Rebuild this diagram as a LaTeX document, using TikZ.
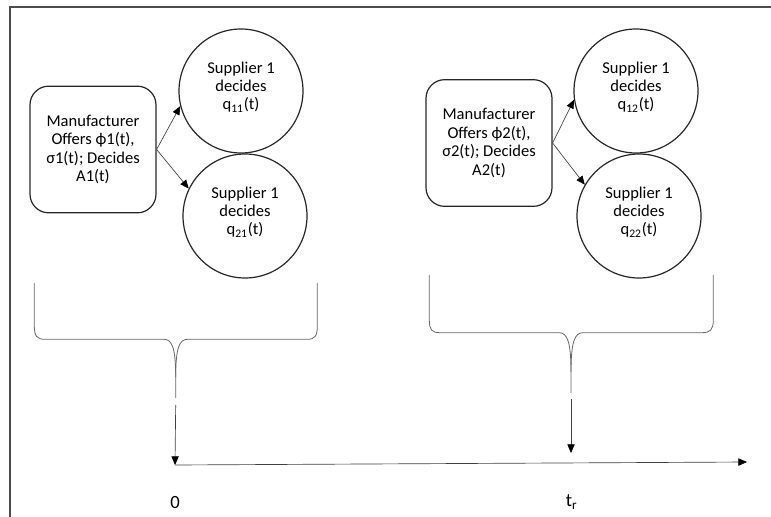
\documentclass[tikz,border=0pt]{standalone}
\usepackage{fontspec}
\setmainfont{Carlito}
\usetikzlibrary{arrows.meta}
\begin{document}
\begin{tikzpicture}[x=0.75pt,y=-0.75pt,
  every node/.style={font=\fontsize{12.4pt}{13.8pt}\selectfont},
  mbox/.style={draw=black!85, line width=0.9pt, rounded corners=14pt,
    minimum width=94.5pt, minimum height=95pt, align=center, inner sep=0pt},
  sbox/.style={draw=black!85, line width=0.9pt, circle, minimum size=93pt,
    align=center, inner sep=0pt},
  link/.style={draw=black!75, line width=0.5pt,
    -{Triangle[length=6.5pt,width=5.5pt,color=black]}},
  brace/.style={draw=black!60, line width=0.6pt},
  frame/.style={draw=black!70, line width=0.9pt},
  ticklabel/.style={font=\fontsize{14pt}{16pt}\selectfont}]
\useasboundingbox (0,0) rectangle (771,517);
\draw[frame] (10,517) -- (10,7) -- (771,7);

% first stage
\node[mbox] (m1) at (93,149.5) {Manufacturer\\Offers ϕ1(t),\\σ1(t); Decides\\A1(t)};
\node[sbox] (s11) at (241,91) {Supplier 1\\decides\\q\textsubscript{11}(t)\rule[-8pt]{0pt}{8pt}};
\node[sbox] (s21) at (245,216) {Supplier 1\\decides\\q\textsubscript{21}(t)\rule[-8pt]{0pt}{8pt}};
\draw[link] (m1.east) -- (s11.194);
\draw[link] (m1.east) -- (s21.154);

% second stage
\node[mbox] (m2) at (489,143) {Manufacturer\\Offers ϕ2(t),\\σ2(t); Decides\\A2(t)};
\node[sbox] (s12) at (636,91) {Supplier 1\\decides\\q\textsubscript{12}(t)\rule[-8pt]{0pt}{8pt}};
\node[sbox] (s22) at (639,216) {Supplier 1\\decides\\q\textsubscript{22}(t)\rule[-8pt]{0pt}{8pt}};
\draw[link] (m2.east) -- (s12.188);
\draw[link] (m2.east) -- (s22.150);

% braces under each stage
\draw[brace] (34.3,283) -- (34.3,326) .. controls (34.3,336) and (37,339.3) .. (45,339.3)
  -- (164,339.3) .. controls (172,339.3) and (175.7,348) .. (175.7,377) -- (175.7,398);
\draw[brace] (175.7,377) .. controls (175.7,348) and (179.4,339.3) .. (187.4,339.3)
  -- (307,339.3) .. controls (315,339.3) and (317.3,336) .. (317.3,326) -- (317.3,283);
\draw[brace] (429.3,275) -- (429.3,320) .. controls (429.3,330) and (432,332.7) .. (440,332.7)
  -- (559,332.7) .. controls (567,332.7) and (571,341) .. (571,372) -- (571,393);
\draw[brace] (571,372) .. controls (571,341) and (575,332.7) .. (583,332.7)
  -- (702,332.7) .. controls (710,332.7) and (713.3,330) .. (713.3,320) -- (713.3,275);

% time axis
\coordinate (b1) at (175.7,405);
\coordinate (b2) at (571,399);
\coordinate (ax0) at (175,465);
\coordinate (ax1) at (747,462);
\coordinate (t1) at (571,453);
\draw[link] (b1) -- (ax0);
\draw[link] (b2) -- (t1);
\draw[link] (ax0) -- (ax1);
\node[ticklabel] (l0) at (175,503) {0};
\node[ticklabel] (l1) at (571.7,502) {t\textsubscript{r}};
\end{tikzpicture}
\end{document}
